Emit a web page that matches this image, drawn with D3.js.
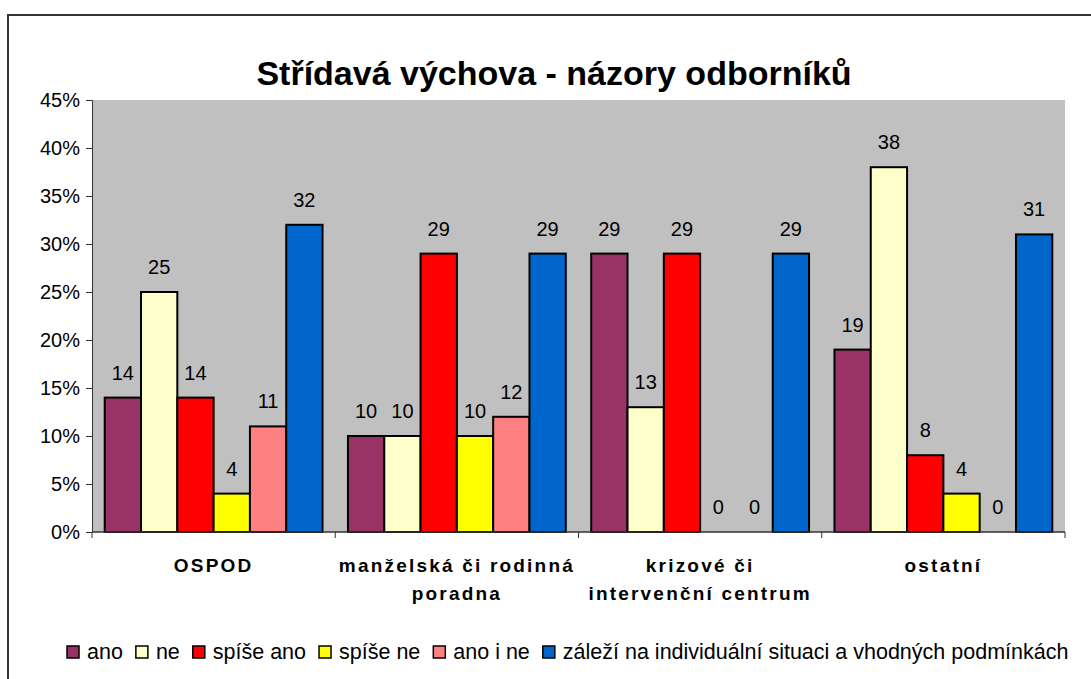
<!DOCTYPE html>
<html>
<head>
  <meta charset="utf-8">
  <title>Střídavá výchova - názory odborníků</title>
  <style>
    body { margin: 0; background: #fff; }
    svg { display: block; font-family: "Liberation Sans", Arial, sans-serif; }
  </style>
</head>
<body>
  <svg width="1091" height="679"></svg>

  <script src="https://d3js.org/d3.v7.min.js"></script>
  <script>
    // Data
    const categories = [
      ["OSPOD"],
      ["manželská či rodinná", "poradna"],
      ["krizové či", "intervenční centrum"],
      ["ostatní"]
    ];
    const seriesNames = ["ano", "ne", "spíše ano", "spíše ne", "ano i ne",
      "záleží na individuální situaci a vhodných podmínkách"];
    const seriesColors = ["#993366", "#ffffcc", "#ff0000", "#ffff00", "#ff8080", "#0066cc"];
    // values per series, one per category (percent)
    const ano = [14, 10, 29, 19];
    const ne = [25, 10, 13, 38];
    const spiseAno = [14, 29, 29, 8];
    const spiseNe = [4, 10, 0, 4];
    const anoINe = [11, 12, 0, 0];
    const zalezi = [32, 29, 29, 31];
    const series = [ano, ne, spiseAno, spiseNe, anoINe, zalezi];
    const yTicks = [0, 5, 10, 15, 20, 25, 30, 35, 40, 45];

    const svg = d3.select("svg");

    // outer frame (right/bottom cut by the picture)
    svg.append("rect")
      .attr("x", 8).attr("y", 15)
      .attr("width", 1100).attr("height", 700)
      .attr("fill", "none").attr("stroke", "#333").attr("stroke-width", 2);

    // title
    svg.append("text")
      .attr("x", 554).attr("y", 85)
      .attr("text-anchor", "middle")
      .attr("font-size", 34).attr("font-weight", "bold")
      .text("Střídavá výchova - názory odborníků");

    const plot = { left: 92, top: 100, right: 1065, bottom: 532 };

    const x0 = d3.scaleBand()
      .domain(d3.range(categories.length))
      .range([plot.left, plot.right]);
    const gap = 0.7;
    const barW = x0.bandwidth() / (series.length + gap);
    const y = d3.scaleLinear().domain([0, 45]).range([plot.bottom, plot.top]);

    // plot background
    svg.append("rect")
      .attr("x", plot.left).attr("y", plot.top)
      .attr("width", plot.right - plot.left).attr("height", plot.bottom - plot.top)
      .attr("fill", "#c0c0c0");

    // y axis
    const yAxis = svg.append("g")
      .attr("transform", `translate(${plot.left},0)`)
      .call(d3.axisLeft(y).tickValues(yTicks).tickFormat(d => d + "%").tickSize(6).tickPadding(6));
    yAxis.select(".domain").attr("stroke", "#333");
    yAxis.selectAll(".tick line").attr("stroke", "#333");
    yAxis.selectAll("text").attr("font-size", 20).attr("fill", "#000")
      .attr("font-family", "Liberation Sans, Arial, sans-serif");

    // bars
    series.forEach((vals, s) => {
      const g = svg.append("g");
      vals.forEach((v, c) => {
        const bx = x0(c) + barW * gap / 2 + s * barW;
        if (v > 0) {
          g.append("rect")
            .attr("x", bx).attr("y", y(v))
            .attr("width", barW).attr("height", y(0) - y(v))
            .attr("fill", seriesColors[s])
            .attr("stroke", "#000").attr("stroke-width", 2);
        }
        g.append("text")
          .attr("x", bx + barW / 2).attr("y", y(v) - 18)
          .attr("text-anchor", "middle")
          .attr("font-size", 20)
          .text(v);
      });
    });

    // x axis
    svg.append("line")
      .attr("x1", plot.left).attr("x2", plot.right)
      .attr("y1", plot.bottom).attr("y2", plot.bottom)
      .attr("stroke", "#333").attr("stroke-width", 1.5);
    d3.range(categories.length + 1).forEach(i => {
      const tx = plot.left + i * x0.bandwidth();
      svg.append("line")
        .attr("x1", tx).attr("x2", tx)
        .attr("y1", plot.bottom).attr("y2", plot.bottom + 6)
        .attr("stroke", "#333");
    });

    // category labels
    categories.forEach((lines, c) => {
      const t = svg.append("text")
        .attr("text-anchor", "middle")
        .attr("font-size", 19).attr("font-weight", "bold")
        .attr("letter-spacing", 2.2);
      lines.forEach((ln, k) => {
        t.append("tspan")
          .attr("x", x0(c) + x0.bandwidth() / 2)
          .attr("y", 572 + k * 28)
          .text(ln);
      });
    });

    // legend
    let lx = 67;
    const ly = 652;
    seriesNames.forEach((name, s) => {
      svg.append("rect")
        .attr("x", lx).attr("y", ly - 6)
        .attr("width", 12).attr("height", 12)
        .attr("fill", seriesColors[s])
        .attr("stroke", "#000").attr("stroke-width", 1.5);
      const t = svg.append("text")
        .attr("x", lx + 20).attr("y", ly + 7)
        .attr("font-size", 21.5)
        .text(name);
      lx += 20 + t.node().getComputedTextLength() + 13;
    });
  </script>
</body>
</html>
